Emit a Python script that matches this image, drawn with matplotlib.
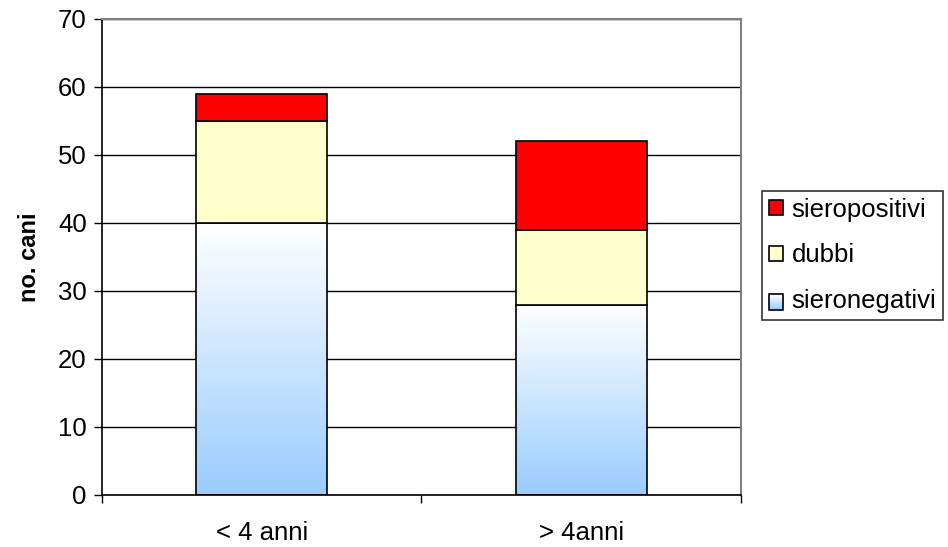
import numpy as np
import matplotlib
matplotlib.use("Agg")
import matplotlib.pyplot as plt
from matplotlib.patches import Rectangle
from matplotlib.legend_handler import HandlerBase
from matplotlib.colors import LinearSegmentedColormap

categories = ["< 4 anni", "> 4anni"]
sieronegativi = [40, 28]
dubbi = [15, 11]
sieropositivi = [4, 13]

plt.rcParams["font.family"] = ["Liberation Sans", "DejaVu Sans"]

blue_grad = LinearSegmentedColormap.from_list("bg", ["#99ccff", "#ffffff"])


class GradientHandler(HandlerBase):
    def create_artists(self, legend, orig, xd, yd, w, h, fontsize, trans):
        n = 12
        arts = []
        for i in range(n):
            arts.append(Rectangle((xd, yd + h * i / n), w, h / n,
                                  facecolor=blue_grad(i / (n - 1)),
                                  edgecolor="none", transform=trans))
        arts.append(Rectangle((xd, yd), w, h, facecolor="none",
                              edgecolor="black", lw=1.2, transform=trans))
        return arts


fig = plt.figure(figsize=(9.48, 5.47), dpi=100)
ax = fig.add_axes([0.1076, 0.0951, 0.6740, 0.8702])

x = np.arange(len(categories))
width = 0.41

# sieronegativi: gradient fill
grad = np.linspace(0, 1, 256).reshape(-1, 1)
for xi, v in zip(x, sieronegativi):
    ax.imshow(grad, cmap=blue_grad, origin="lower", aspect="auto",
              extent=(xi - width / 2, xi + width / 2, 0, v), zorder=2)
bars_neg = ax.bar(x, sieronegativi, width, facecolor="none",
                  edgecolor="black", linewidth=1.2, zorder=3)
bottom2 = np.array(sieronegativi)
bars_dub = ax.bar(x, dubbi, width, bottom=bottom2, color="#ffffcc",
                  edgecolor="black", linewidth=1.2, zorder=3)
bottom3 = bottom2 + np.array(dubbi)
bars_pos = ax.bar(x, sieropositivi, width, bottom=bottom3, color="#ff0000",
                  edgecolor="black", linewidth=1.2, zorder=3)
ax.set_xlim(-0.5, len(categories) - 0.5)
ax.set_ylim(0, 70)

# grid
ax.set_yticks(range(0, 71, 10))
ax.yaxis.grid(True, color="black", linewidth=1.0)
ax.set_axisbelow(True)

ax.set_xticks([-0.5, 0.5, 1.5])
ax.set_xticklabels([])
ax.set_xticks(x, minor=True)
ax.set_xticklabels(categories, minor=True)
ax.tick_params(axis="x", which="minor", length=0, pad=19, labelsize=18.5)
ax.tick_params(axis="x", which="major", length=6, direction="out", width=1)
ax.tick_params(axis="y", length=6, direction="out", width=1, labelsize=18.5, pad=5)

for s in ["left", "bottom"]:
    ax.spines[s].set_color("black")
    ax.spines[s].set_linewidth(1.2)
for s in ["top", "right"]:
    ax.spines[s].set_color("#808080")
    ax.spines[s].set_linewidth(1.5)

ax.set_ylabel("no. cani", fontsize=17, fontweight="bold", labelpad=12)

leg = fig.legend([bars_pos[0], bars_dub[0], bars_neg[0]],
                 ["sieropositivi", "dubbi", "sieronegativi"],
                 handler_map={bars_neg[0]: GradientHandler()},
                 loc="center left", bbox_to_anchor=(0.804, 0.533),
                 fontsize=18.5, frameon=True, fancybox=False,
                 edgecolor="black", handlelength=0.55, handleheight=0.55,
                 handletextpad=0.35, labelspacing=0.85, borderpad=0.25,
                 borderaxespad=0)
leg.get_frame().set_linewidth(1.2)

fig.savefig("out.png", dpi=100)
